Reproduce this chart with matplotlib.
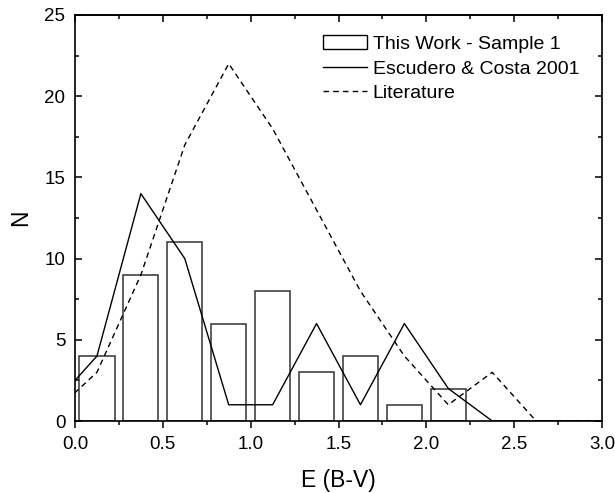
import matplotlib.pyplot as plt
from matplotlib.patches import Patch
from matplotlib.lines import Line2D
from matplotlib.ticker import MultipleLocator, NullFormatter

plt.rcParams['font.family'] = ['Liberation Sans', 'DejaVu Sans']

# histogram of this work (bin centres, counts)
bin_centres = [0.125, 0.375, 0.625, 0.875, 1.125, 1.375, 1.625, 1.875, 2.125]
counts = [4, 9, 11, 6, 8, 3, 4, 1, 2]

# Escudero & Costa 2001
esc_x = [-0.125, 0.125, 0.375, 0.625, 0.875, 1.125, 1.375, 1.625, 1.875, 2.125, 2.375, 2.625, 2.875, 3.125]
esc_y = [1, 4, 14, 10, 1, 1, 6, 1, 6, 2, 0, 0, 0, 0]

# literature
lit_x = [-0.125, 0.125, 0.375, 0.625, 0.875, 1.125, 1.375, 1.625, 1.875, 2.125, 2.375, 2.625, 2.875, 3.125]
lit_y = [0.5, 3, 9, 17, 22, 18, 13, 8, 4, 1, 3, 0, 0, 0]

fig = plt.figure(figsize=(6.15, 4.93), dpi=100)
ax = fig.add_axes([75/615, 1-421/493, 527/615, 406/493])

ax.bar(bin_centres, counts, width=0.2, facecolor='white', edgecolor='#333333', linewidth=1.1)
ax.plot(esc_x, esc_y, color='black', linewidth=1.0)
ax.plot(lit_x, lit_y, color='black', linewidth=1.0, linestyle=(0, (4, 3)))

ax.set_xlim(0, 3.0)
ax.set_ylim(0, 25)
ax.xaxis.set_major_locator(MultipleLocator(0.5))
ax.xaxis.set_minor_locator(MultipleLocator(0.25))
ax.yaxis.set_major_locator(MultipleLocator(5))
ax.yaxis.set_minor_locator(MultipleLocator(2.5))
ax.xaxis.set_major_formatter(plt.FormatStrFormatter('%.1f'))

# bottom ticks point out, the other sides point in
ax.tick_params(which='both', top=False, right=True, labelsize=13.5, width=1.1)
ax.tick_params(which='major', length=5)
ax.tick_params(which='minor', length=3)
ax.tick_params(axis='x', which='both', direction='out', pad=6)
ax.tick_params(axis='y', which='both', direction='in', pad=7)
for s in ax.spines.values():
    s.set_linewidth(1.2)

top = ax.secondary_xaxis('top')
top.xaxis.set_major_locator(MultipleLocator(0.5))
top.xaxis.set_minor_locator(MultipleLocator(0.25))
top.xaxis.set_major_formatter(NullFormatter())
top.tick_params(which='both', direction='in', width=1.1)
top.tick_params(which='major', length=5)
top.tick_params(which='minor', length=3)
top.spines['top'].set_linewidth(1.2)

ax.set_xlabel('E (B-V)', fontsize=16.5, labelpad=11)
ax.set_ylabel('N', fontsize=16.5, labelpad=9)

handles = [Patch(facecolor='white', edgecolor='black', linewidth=1.0),
           Line2D([], [], color='black', linewidth=1.0),
           Line2D([], [], color='black', linewidth=1.0, linestyle=(0, (4, 3)))]
labels = ['This Work - Sample 1', 'Escudero & Costa 2001', 'Literature']
ax.legend(handles, labels, loc='upper left', bbox_to_anchor=(0.4706, 0.95),
          frameon=False, fontsize=14, borderpad=0, borderaxespad=0,
          handlelength=2.25, handletextpad=0.3, labelspacing=0.36)

fig.savefig('out.png', dpi=100)
